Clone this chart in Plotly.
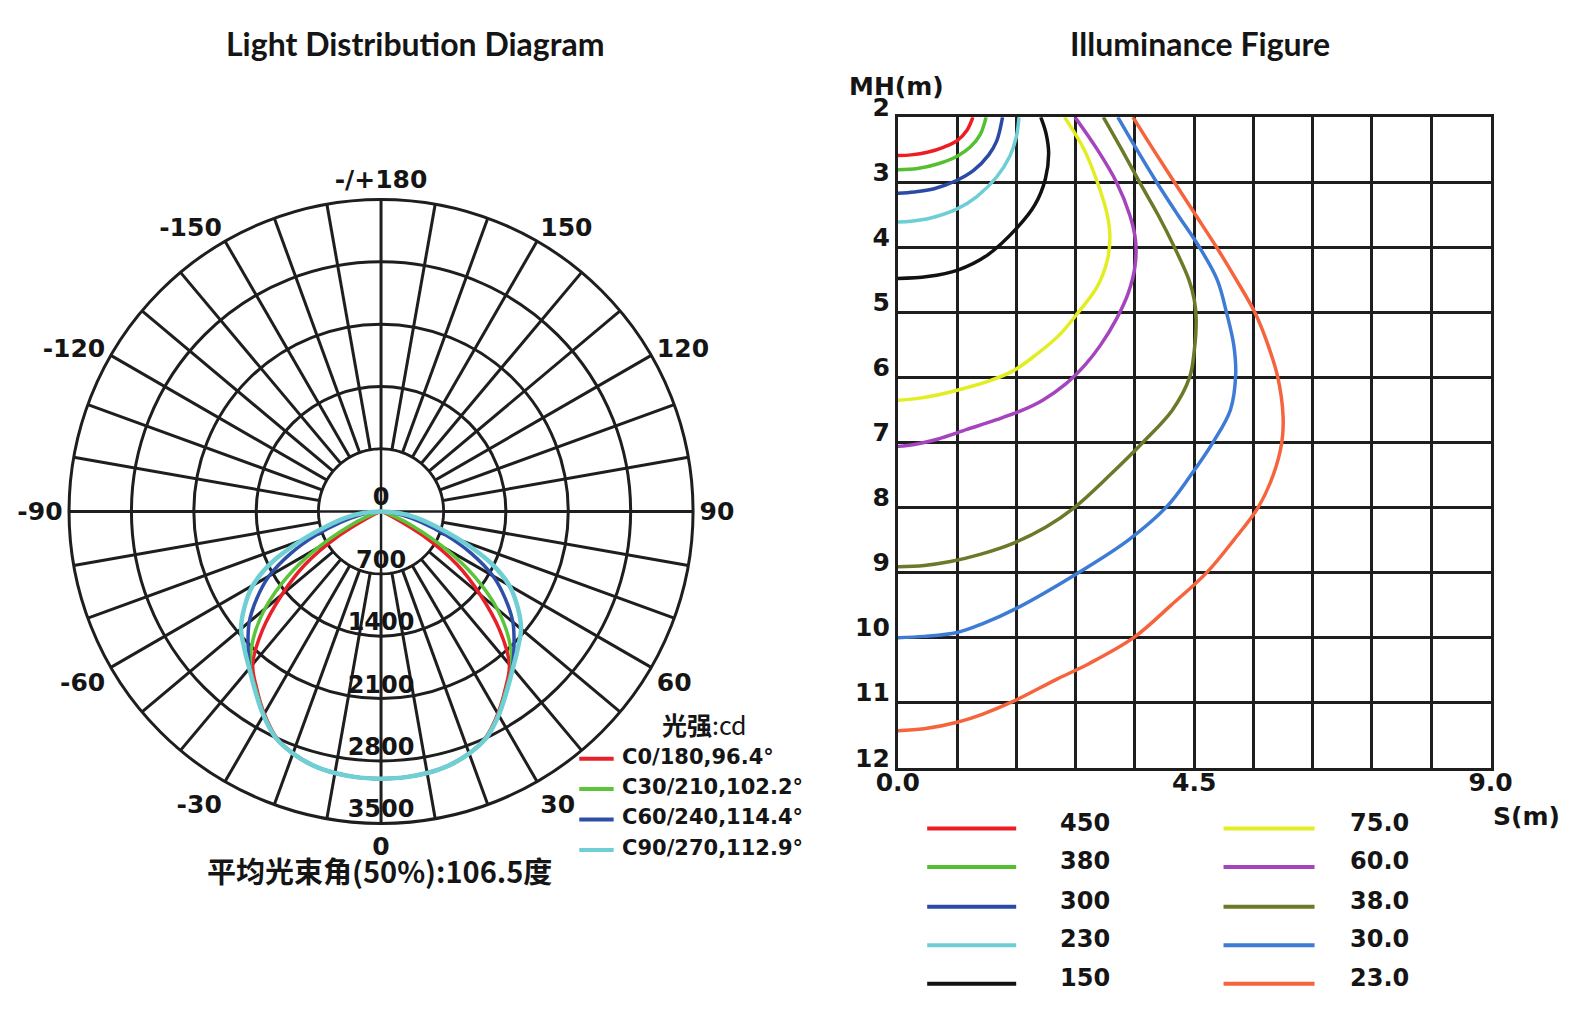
import plotly.graph_objects as go

W, H = 1585, 1026
# the photographed page comes out slightly scaled and shifted; positions below are
# given in photographed-pixel terms and converted here
SCX, OX = 0.9613, 22.0
SCY, OY = 0.9588, 26.1


def px(x):
    return ((x - OX) / SCX) / W


def py(y):
    return 1 - ((y - OY) / SCY) / H


# ---------------- Left: light distribution (polar) ----------------
gamma = [0, 5, 10, 15, 20, 25, 30, 35, 40, 45, 50, 55, 60, 65, 70, 75, 80, 85, 90]
I_c0_180 = [3000, 2995, 2980, 2950, 2890, 2790, 2620, 2430, 2240, 1880, 1450, 1040, 540, 140, 40, 15, 5, 0, 0]
I_c30_210 = [3000, 2995, 2980, 2950, 2890, 2795, 2630, 2445, 2280, 2030, 1700, 1290, 820, 400, 150, 50, 10, 0, 0]
I_c60_240 = [3000, 2995, 2980, 2950, 2890, 2798, 2635, 2455, 2290, 2110, 1930, 1700, 1450, 1120, 770, 465, 250, 90, 0]
I_c90_270 = [3000, 2995, 2980, 2950, 2890, 2800, 2640, 2460, 2300, 2170, 2050, 1870, 1660, 1350, 950, 620, 400, 200, 0]

plane_names = ["C0/180,96.4°", "C30/210,102.2°", "C60/240,114.4°", "C90/270,112.9°"]
plane_colors = ["#e8202a", "#5bc43a", "#2e4ea8", "#6fcfd4"]
plane_widths = [3.5, 3.5, 3.5, 4.5]
planes = [I_c0_180, I_c30_210, I_c60_240, I_c90_270]

radial_ticks = [700, 1400, 2100, 2800, 3500]
radial_labels = ["0", "700", "1400", "2100", "2800", "3500"]
angle_ticks = list(range(0, 360, 10))
angle_named = {0: "0", 30: "30", 60: "60", 90: "90", 120: "120", 150: "150",
               180: "-/+180", 210: "-150", 240: "-120", 270: "-90", 300: "-60", 330: "-30"}
angle_text = [angle_named.get(a, "") for a in angle_ticks]

# ---------------- Right: illuminance figure ----------------
levels = ["450", "380", "300", "230", "150", "75.0", "60.0", "38.0", "30.0", "23.0"]
level_colors = ["#ee1d23", "#55c02f", "#2b4aa6", "#6dcfd5", "#111111",
                "#e3ee22", "#a545bd", "#6b7a29", "#3d7bd5", "#f5643c"]

S_450 = [1.14, 1.05, 0.9, 0.7, 0.45, 0.2, 0.0]
MH_450 = [2.0, 2.2, 2.36, 2.46, 2.54, 2.58, 2.59]
S_380 = [1.34, 1.25, 1.1, 0.9, 0.6, 0.3, 0.0]
MH_380 = [2.0, 2.27, 2.46, 2.6, 2.72, 2.79, 2.81]
S_300 = [1.59, 1.5, 1.38, 1.15, 0.9, 0.55, 0.25, 0.0]
MH_300 = [2.0, 2.37, 2.58, 2.82, 2.97, 3.1, 3.15, 3.17]
S_230 = [1.84, 1.8, 1.7, 1.5, 1.2, 0.9, 0.5, 0.2, 0.0]
MH_230 = [2.0, 2.3, 2.6, 2.92, 3.22, 3.41, 3.55, 3.6, 3.61]
S_150 = [2.17, 2.25, 2.29, 2.24, 2.08, 1.82, 1.36, 0.91, 0.45, 0.0]
MH_150 = [2.0, 2.25, 2.56, 2.95, 3.35, 3.69, 4.12, 4.35, 4.45, 4.48]
S_75 = [2.53, 2.83, 3.03, 3.18, 3.22, 3.18, 3.03, 2.74, 2.45, 2.1, 1.75, 1.4, 1.0, 0.6, 0.25, 0.0]
MH_75 = [2.0, 2.5, 3.0, 3.5, 3.85, 4.2, 4.6, 5.0, 5.35, 5.65, 5.9, 6.05, 6.17, 6.27, 6.33, 6.35]
S_60 = [2.69, 3.03, 3.32, 3.52, 3.61, 3.6, 3.5, 3.32, 3.08, 2.85, 2.55, 2.2, 1.9, 1.5, 1.05, 0.6, 0.25, 0.0]
MH_60 = [2.0, 2.5, 3.0, 3.5, 3.9, 4.3, 4.7, 5.1, 5.5, 5.8, 6.1, 6.35, 6.5, 6.65, 6.8, 6.95, 7.03, 7.06]
S_38 = [3.12, 3.4, 3.67, 3.95, 4.2, 4.42, 4.5, 4.53, 4.5, 4.43, 4.17, 3.72, 3.22, 2.68, 2.25, 1.75,
        1.25, 0.8, 0.4, 0.0]
MH_38 = [2.0, 2.5, 3.0, 3.5, 4.0, 4.5, 4.8, 5.1, 5.6, 6.0, 6.5, 7.0, 7.5, 8.0, 8.3, 8.55,
         8.72, 8.83, 8.89, 8.91]
S_30 = [3.34, 3.6, 3.93, 4.25, 4.58, 4.85, 4.99, 5.1, 5.13, 5.05, 4.79, 4.45, 4.08, 3.5, 2.76, 1.8, 1.3, 0.9, 0.4, 0.0]
MH_30 = [2.0, 2.45, 3.0, 3.5, 4.0, 4.5, 5.0, 5.5, 5.96, 6.5, 6.99, 7.5, 7.99, 8.5, 8.99, 9.55, 9.78, 9.92, 9.98, 10.0]
S_23 = [3.57, 3.88, 4.2, 4.52, 4.84, 5.14, 5.42, 5.62, 5.77, 5.85, 5.83, 5.7, 5.47, 5.1, 4.69,
        4.15, 3.58, 2.9, 2.41, 1.75, 1.3, 0.9, 0.4, 0.0]
MH_23 = [2.0, 2.5, 3.0, 3.5, 4.0, 4.5, 5.0, 5.5, 6.0, 6.6, 7.0, 7.5, 8.0, 8.5, 9.0,
         9.5, 10.0, 10.4, 10.64, 10.98, 11.17, 11.3, 11.4, 11.43]

curves_S = [S_450, S_380, S_300, S_230, S_150, S_75, S_60, S_38, S_30, S_23]
curves_MH = [MH_450, MH_380, MH_300, MH_230, MH_150, MH_75, MH_60, MH_38, MH_30, MH_23]

s_grid = [0.0, 0.9, 1.8, 2.7, 3.6, 4.5, 5.4, 6.3, 7.2, 8.1, 9.0]
s_ticktext = ["0.0", "", "", "", "", "4.5", "", "", "", "", "9.0"]
mh_ticks = [2, 3, 4, 5, 6, 7, 8, 9, 10, 11, 12]
mh_ticktext = [str(v) for v in mh_ticks]

FONT = "DejaVu Sans"
INK = "#151515"
GRID = "#1e1e1e"

fig = go.Figure()

# inner blank disc of the polar grid (spokes start at the first ring)
disc_theta = list(range(0, 362, 2))
fig.add_trace(go.Scatterpolar(r=[radial_ticks[0]] * len(disc_theta), theta=disc_theta,
                              mode="lines", fill="toself", fillcolor="white",
                              line=dict(color=GRID, width=2.5), hoverinfo="skip", showlegend=False))
fig.add_trace(go.Scatterpolar(r=[radial_ticks[0], 0, radial_ticks[0]], theta=[180, 0, 0],
                              mode="lines", line=dict(color=GRID, width=2.5), hoverinfo="skip",
                              showlegend=False))
fig.add_trace(go.Scatterpolar(r=[radial_ticks[0], 0, radial_ticks[0]], theta=[270, 0, 90],
                              mode="lines", line=dict(color=GRID, width=2.5), hoverinfo="skip",
                              showlegend=False))

# intensity curves, mirrored to both halves of the plane
theta_full = [-g for g in reversed(gamma)] + gamma[1:]
for name, col, wd, I in zip(plane_names, plane_colors, plane_widths, planes):
    r_full = list(reversed(I)) + I[1:]
    fig.add_trace(go.Scatterpolar(r=r_full, theta=theta_full, mode="lines", name=name,
                                  line=dict(color=col, width=wd, shape="spline"),
                                  showlegend=False))

# radial value labels along the 0° spoke
fig.add_trace(go.Scatterpolar(r=[0] + radial_ticks, theta=[0] * 6, mode="text",
                              text=radial_labels, textposition="top center",
                              textfont=dict(family=FONT, size=24, color=INK, weight="bold"),
                              hoverinfo="skip", showlegend=False))

# isolux curves
for lv, col, S, MH in zip(levels, level_colors, curves_S, curves_MH):
    fig.add_trace(go.Scatter(x=S, y=MH, mode="lines", name=lv,
                             line=dict(color=col, width=3.5, shape="spline"),
                             showlegend=False, xaxis="x", yaxis="y"))

annotations = []
shapes = []


def note(text, x, y, size, family=FONT, xanchor="center"):
    annotations.append(dict(text=text, x=px(x), y=py(y), xref="paper", yref="paper",
                            xanchor=xanchor, yanchor="middle", showarrow=False,
                            font=dict(family=family, size=size, color=INK)))


note("<b>Light Distribution Diagram</b>", 411, 45, 32, family="Lato")
note("<b>Illuminance Figure</b>", 1187, 45, 32, family="Lato")
note("<b>平均光束角(50%):106.5度</b>", 375, 861, 29, family="Noto Sans CJK SC")
note("<b>光强</b>:cd", 697, 717, 25, family="Noto Sans CJK SC")
note("<b>MH(m)</b>", 887, 88, 25)
note("<b>S(m)</b>", 1510, 808, 25)

# polar legend
pol_rows = [751, 781, 811, 841]
for name, col, yy in zip(plane_names, plane_colors, pol_rows):
    shapes.append(dict(type="line", xref="paper", yref="paper", x0=px(573), x1=px(607),
                       y0=py(yy), y1=py(yy), line=dict(color=col, width=4)))
    note("<b>" + name + "</b>", 613, yy - 2, 21, xanchor="left")

# isolux legend
iso_rows = [820, 858, 897, 935, 973]
for i, (lv, col) in enumerate(zip(levels, level_colors)):
    c, rr = divmod(i, 5)
    x0, x1, xt = (917, 1005, 1046) if c == 0 else (1210, 1300, 1333)
    yy = iso_rows[rr]
    shapes.append(dict(type="line", xref="paper", yref="paper", x0=px(x0), x1=px(x1),
                       y0=py(yy), y1=py(yy), line=dict(color=col, width=4)))
    note("<b>" + lv + "</b>", xt, yy - 6, 24, xanchor="left")

fig.update_layout(
    width=W, height=H, margin=dict(l=0, r=0, t=0, b=0),
    paper_bgcolor="white", plot_bgcolor="white", showlegend=False,
    polar=dict(
        domain=dict(x=[px(68.5), px(685.5)], y=[py(815.5), py(198.5)]),
        bgcolor="white",
        angularaxis=dict(rotation=-90, direction="counterclockwise", tickmode="array",
                         tickvals=angle_ticks, ticktext=angle_text, ticks="",
                         showgrid=True, gridcolor=GRID, gridwidth=2.5,
                         showline=True, linecolor=GRID, linewidth=3,
                         tickfont=dict(family=FONT, size=25, color=INK, weight="bold")),
        radialaxis=dict(range=[0, 3500], tickmode="array", tickvals=radial_ticks,
                        showticklabels=False, ticks="", showline=False,
                        showgrid=True, gridcolor=GRID, gridwidth=2.5),
    ),
    xaxis=dict(domain=[px(888), px(1474)], range=[0, 9], tickmode="array", tickvals=s_grid,
               ticktext=s_ticktext, showgrid=True, gridcolor=GRID, gridwidth=2.5,
               showline=True, mirror=True, linecolor=GRID, linewidth=3, zeroline=False,
               ticks="", ticklabelstandoff=-10,
               tickfont=dict(family=FONT, size=25, color=INK, weight="bold")),
    yaxis=dict(domain=[py(760), py(118)], range=[12, 2], tickmode="array", tickvals=mh_ticks,
               ticktext=mh_ticktext, showgrid=True, gridcolor=GRID, gridwidth=2.5,
               showline=True, mirror=True, linecolor=GRID, linewidth=3, zeroline=False,
               ticks="", ticklabelshift=10,
               tickfont=dict(family=FONT, size=25, color=INK, weight="bold")),
    annotations=annotations,
    shapes=shapes,
)

post = """
document.documentElement.style.margin='0';
document.body.style.margin='0';
document.body.style.overflow='hidden';
"""

fig.write_html("out.html", post_script=post, config={"displayModeBar": False})
